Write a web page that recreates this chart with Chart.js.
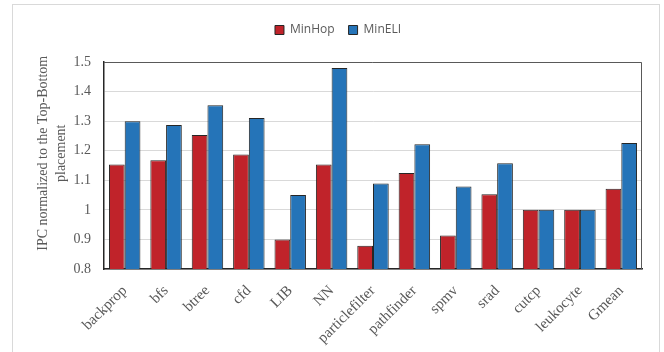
<!DOCTYPE html>
<html>
<head>
<meta charset="utf-8">
<script src="https://cdn.jsdelivr.net/npm/chart.js@4/dist/chart.umd.min.js"></script>
<style>
  html, body { margin: 0; padding: 0; background: #ffffff; }
  #wrap { width: 664px; height: 352px; }
</style>
</head>
<body>
<div id="wrap"><canvas id="c" width="664" height="352"></canvas></div>
<script>
// Benchmarks on the x axis
const categories = ['backprop', 'bfs', 'btree', 'cfd', 'LIB', 'NN', 'particlefilter',
  'pathfinder', 'spmv', 'srad', 'cutcp', 'leukocyte', 'Gmean'];

// Normalized IPC per placement policy
const minHop = [1.153, 1.168, 1.253, 1.187, 0.900, 1.153, 0.879, 1.125, 0.913, 1.053, 1.000, 1.000, 1.071];
const minELI = [1.300, 1.287, 1.354, 1.311, 1.050, 1.480, 1.089, 1.222, 1.079, 1.158, 1.000, 1.000, 1.226];

// Y axis tick values
const yTicks = [0.8, 0.9, 1.0, 1.1, 1.2, 1.3, 1.4, 1.5];

const serif = "'Liberation Serif', 'Times New Roman', serif";
const sans = "'Open Sans', 'Noto Sans', sans-serif";

// Light outer frame, dark box around the plot area, extra gap under the legend
const framePlugin = {
  id: 'frames',
  afterInit(chart) {
    const lg = chart.legend;
    if (lg) {
      const fit = lg.fit;
      lg.fit = function () { fit.call(this); this.height += 16; };
    }
  },
  beforeDraw(chart) {
    const ctx = chart.ctx;
    ctx.save();
    ctx.strokeStyle = '#d9d9d9';
    ctx.lineWidth = 1;
    ctx.strokeRect(12.5, 4.5, 647, 360);
    ctx.restore();
  },
  afterDatasetsDraw(chart) {
    const a = chart.chartArea;
    const ctx = chart.ctx;
    ctx.save();
    ctx.strokeStyle = '#595959';
    ctx.lineWidth = 1;
    ctx.beginPath();
    ctx.moveTo(a.left, a.top + 0.5);
    ctx.lineTo(a.right - 0.5, a.top + 0.5);
    ctx.lineTo(a.right - 0.5, a.bottom);
    ctx.stroke();
    ctx.restore();
  }
};

new Chart(document.getElementById('c'), {
  type: 'bar',
  data: {
    labels: categories,
    datasets: [
      {
        label: 'MinHop',
        data: minHop,
        backgroundColor: '#c0232a',
        borderColor: '#262626',
        borderWidth: 1
      },
      {
        label: 'MinELI',
        data: minELI,
        backgroundColor: '#2574b8',
        borderColor: '#262626',
        borderWidth: 1
      }
    ]
  },
  options: {
    responsive: false,
    animation: false,
    devicePixelRatio: 1,
    layout: { padding: { left: 34, right: 22, top: 10, bottom: 4 } },
    datasets: {
      bar: { barPercentage: 1.0, categoryPercentage: 0.76 }
    },
    plugins: {
      legend: {
        position: 'top',
        labels: {
          boxWidth: 9,
          boxHeight: 9,
          color: '#595959',
          font: { family: sans, size: 12 },
          padding: 14,
          useBorderRadius: false
        }
      },
      tooltip: { enabled: false }
    },
    scales: {
      x: {
        grid: { display: false },
        border: { color: '#262626', width: 1.5 },
        ticks: {
          color: '#595959',
          font: { family: serif, size: 15 },
          maxRotation: 45,
          minRotation: 45,
          padding: 5
        },
        afterFit(s) { s.height = 79; }
      },
      y: {
        min: 0.8,
        max: 1.5,
        afterBuildTicks(s) { s.ticks = yTicks.map(v => ({ value: v })); },
        grid: { color: '#d9d9d9', lineWidth: 1, drawTicks: false },
        border: { color: '#262626', width: 1.5 },
        ticks: {
          color: '#595959',
          font: { family: serif, size: 14 },
          padding: 13,
          callback: v => String(Math.round(v * 10) / 10)
        },
        title: {
          display: true,
          text: ['       IPC normalized to the Top-Bottom', '       placement'],
          color: '#595959',
          font: { family: serif, size: 14, lineHeight: 1.3 },
          padding: { top: 0, bottom: 4 }
        },
        afterFit(s) { s.width = 70; }
      }
    }
  },
  plugins: [framePlugin]
});
</script>
</body>
</html>
